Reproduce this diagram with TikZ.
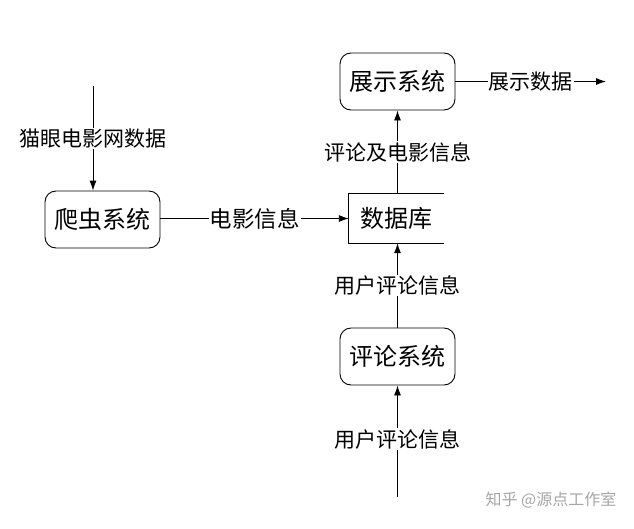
\documentclass[tikz,border=0pt]{standalone}
\usepackage{fontspec}
\newfontfamily\cjk{Noto Sans CJK SC}
\usetikzlibrary{arrows.meta}
\begin{document}
\begin{tikzpicture}[x=1pt,y=-1pt,
  sysbox/.style={draw, line width=0.9pt, rounded corners=11pt, minimum width=115pt, minimum height=57pt, inner sep=0pt, font=\cjk\fontsize{24}{28}\selectfont},
  dbbox/.style={minimum width=95pt, minimum height=49pt, inner sep=0pt, font=\cjk\fontsize{24}{28}\selectfont},
  lbl/.style={fill=white, inner sep=1pt, font=\cjk\fontsize{21}{24}\selectfont},
  flow/.style={line width=0.9pt, -{Latex[length=10pt,width=7pt]}},
  plain/.style={line width=0.9pt},
  wmark/.style={text=black!35, font=\cjk\fontsize{16}{19}\selectfont}]
\useasboundingbox (0,0) rectangle (634,528);
\node[sysbox] (show) at (397.5,81.5) {展示系统};
\node[sysbox] (crawl) at (102.5,219.5) {爬虫系统};
\node[sysbox] (comment) at (397.5,356.5) {评论系统};
\node[dbbox] (db) at (396.5,218.5) {数据库};
\draw[plain] (db.north east) -- (db.north west) -- (db.south west) -- (db.south east);
\coordinate (src) at (93,86);
\coordinate (out) at (606,81.5);
\coordinate (user) at (397.5,497);
\draw[flow] (src) -- node[lbl] {猫眼电影网数据} (src |- crawl.north);
\draw[flow] (crawl.east |- db.west) -- node[lbl, font=\cjk\fontsize{22.5}{26}\selectfont] {电影信息} (db.west);
\draw[flow] (show.east) -- node[lbl] {展示数据} (out);
\draw[flow] (show.south |- db.north) -- node[lbl] {评论及电影信息} (show.south);
\draw[flow] (comment.north) -- node[lbl] {用户评论信息} (comment.north |- db.south);
\draw[flow] (user) -- node[lbl, pos=0.52] {用户评论信息} (comment.south);
\node[wmark] (wm) at (551,500) {知乎 @源点工作室};
\end{tikzpicture}
\end{document}
